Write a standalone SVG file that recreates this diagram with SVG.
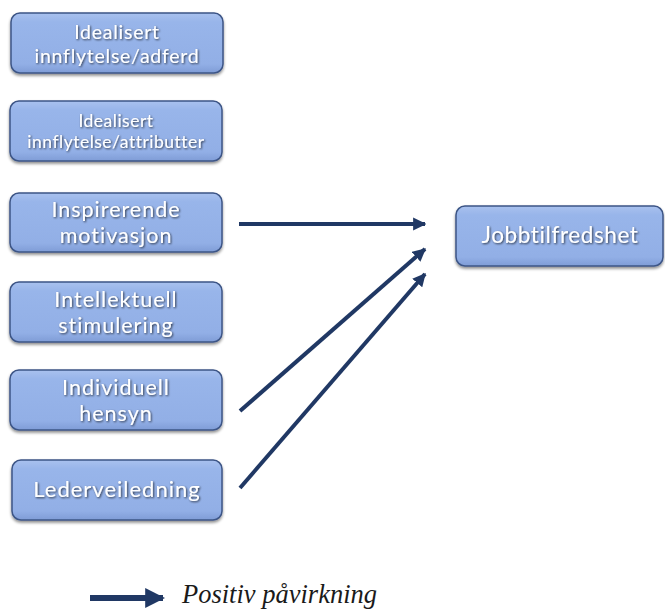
<svg xmlns="http://www.w3.org/2000/svg" width="665" height="610" viewBox="0 0 665 610">
  <defs>
    <linearGradient id="boxFill" x1="0" y1="0" x2="0" y2="1">
      <stop offset="0" stop-color="#a9c1ee"/>
      <stop offset="0.15" stop-color="#98b5ea"/>
      <stop offset="0.85" stop-color="#92afe6"/>
      <stop offset="1" stop-color="#7f9cd6"/>
    </linearGradient>
    <filter id="boxShadow" x="-10%" y="-20%" width="120%" height="150%">
      <feGaussianBlur in="SourceAlpha" stdDeviation="1.5"/>
      <feOffset dx="0" dy="2" result="b"/>
      <feComponentTransfer><feFuncA type="linear" slope="0.45"/></feComponentTransfer>
      <feMerge><feMergeNode/><feMergeNode in="SourceGraphic"/></feMerge>
    </filter>
    <filter id="textShadow" x="-10%" y="-30%" width="120%" height="160%">
      <feGaussianBlur in="SourceAlpha" stdDeviation="1"/>
      <feOffset dx="1" dy="1"/>
      <feComponentTransfer><feFuncA type="linear" slope="0.7"/></feComponentTransfer>
      <feMerge><feMergeNode/><feMergeNode in="SourceGraphic"/></feMerge>
    </filter>
    <marker id="head" viewBox="0 0 10 10" refX="9" refY="5" markerWidth="3.3" markerHeight="3.3" orient="auto" markerUnits="strokeWidth">
      <path d="M0,0 L10,5 L0,10 z" fill="#203864"/>
    </marker>
  </defs>
  <style>
    .box { fill: url(#boxFill); stroke: #3c5586; stroke-width: 1.5; filter: url(#boxShadow); }
    .lbl { font-family: Lato, "Open Sans", "DejaVu Sans", sans-serif; fill: #ffffff; text-anchor: middle; filter: url(#textShadow); }
    .conn { stroke: #203864; stroke-width: 4; fill: none; marker-end: url(#head); }
    .legend-line { stroke-width: 6; }
    .legend { font-family: "Liberation Serif", "Times New Roman", serif; font-style: italic; font-size: 26.5px; fill: #1a1a1a; }
  </style>
  <rect width="665" height="610" fill="#ffffff"/>

  <g id="node-adferd">
    <rect class="box" x="11" y="13" width="212" height="60" rx="9"/>
    <text class="lbl" x="117" y="39" font-size="19.5" letter-spacing="0.75">Idealisert</text>
    <text class="lbl" x="117" y="63" font-size="19.5" letter-spacing="0.75">innflytelse/adferd</text>
  </g>
  <g id="node-attributter">
    <rect class="box" x="10" y="101" width="212" height="60" rx="9"/>
    <text class="lbl" x="116" y="127" font-size="17.5" letter-spacing="0.5">Idealisert</text>
    <text class="lbl" x="116" y="148" font-size="17.5" letter-spacing="0.5">innflytelse/attributter</text>
  </g>
  <g id="node-inspirerende">
    <rect class="box" x="10" y="193" width="212" height="59" rx="9"/>
    <text class="lbl" x="116" y="217" font-size="21.5" letter-spacing="1">Inspirerende</text>
    <text class="lbl" x="116" y="243" font-size="21.5" letter-spacing="1">motivasjon</text>
  </g>
  <g id="node-intellektuell">
    <rect class="box" x="10" y="282" width="212" height="60" rx="9"/>
    <text class="lbl" x="116" y="307" font-size="21.5" letter-spacing="1">Intellektuell</text>
    <text class="lbl" x="116" y="333" font-size="21.5" letter-spacing="1">stimulering</text>
  </g>
  <g id="node-individuell">
    <rect class="box" x="10" y="370" width="212" height="60" rx="9"/>
    <text class="lbl" x="116" y="395" font-size="21.5" letter-spacing="1">Individuell</text>
    <text class="lbl" x="116" y="421" font-size="21.5" letter-spacing="1">hensyn</text>
  </g>
  <g id="node-lederveiledning">
    <rect class="box" x="12" y="460" width="210" height="60" rx="9"/>
    <text class="lbl" x="117" y="497" font-size="22" letter-spacing="1">Lederveiledning</text>
  </g>
  <g id="node-jobbtilfredshet">
    <rect class="box" x="456" y="206" width="207" height="60" rx="9"/>
    <text class="lbl" x="560" y="243" font-size="22.5" letter-spacing="0.6">Jobbtilfredshet</text>
  </g>

  <g id="connectors">
    <line class="conn" x1="239" y1="224" x2="425" y2="224"/>
    <line class="conn" x1="240" y1="411" x2="425" y2="249"/>
    <line class="conn" x1="240" y1="488" x2="425" y2="274"/>
  </g>

  <g id="legend">
    <line class="conn legend-line" x1="90" y1="598" x2="163" y2="598"/>
    <text class="legend" x="182" y="603">Positiv påvirkning</text>
  </g>
</svg>
